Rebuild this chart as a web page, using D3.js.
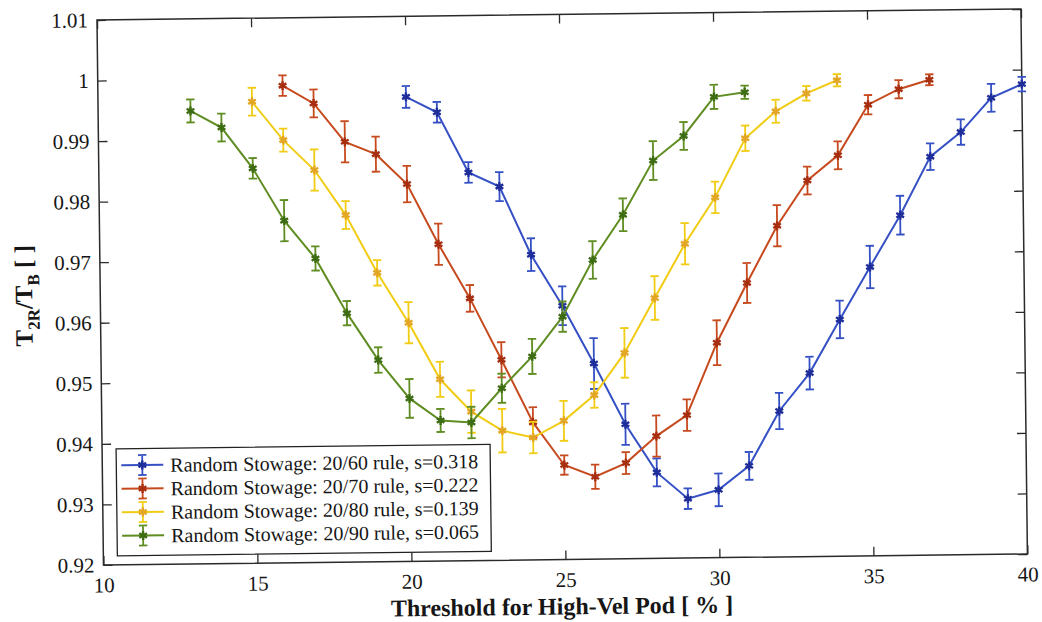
<!DOCTYPE html>
<html>
<head>
<meta charset="utf-8">
<script src="https://cdn.jsdelivr.net/npm/d3@7"></script>
<style>
  body { margin: 0; background: #fff; }
  svg text { font-family: "Liberation Serif", "Times New Roman", serif !important; fill: #161616; }
</style>
</head>
<body>
<svg id="chart" width="1042" height="622"></svg>
<script>
// Threshold (%) and normalized throughput T2R/TB for each stowage rule
const x6060 = [20,21,22,23,24,25,26,27,28,29,30,31,32,33,34,35,36,37,38,39,40];
const y6060 = [0.9967,0.9941,0.9841,0.9817,0.9704,0.9619,0.9523,0.9422,0.9342,0.9298,0.9312,0.9351,0.9441,0.9503,0.9591,0.9677,0.9762,0.9858,0.9898,0.9954,0.9976];
const e6060 = [0.0018,0.0017,0.0017,0.0024,0.0027,0.0032,0.0042,0.0034,0.0023,0.0017,0.0027,0.0023,0.0030,0.0027,0.0031,0.0035,0.0032,0.0022,0.0021,0.0023,0.0012];

const x7070 = [16,17,18,19,20,21,22,23,24,25,26,27,28,29,30,31,32,33,34,35,36,37];
const y7070 = [0.9988,0.9958,0.9894,0.9873,0.9823,0.9723,0.9633,0.9531,0.9427,0.9356,0.9336,0.9358,0.9402,0.9436,0.9555,0.9653,0.9747,0.9821,0.9862,0.9945,0.9970,0.9985];
const e7070 = [0.0017,0.0023,0.0034,0.0029,0.0030,0.0034,0.0022,0.0029,0.0025,0.0016,0.0020,0.0018,0.0034,0.0026,0.0037,0.0033,0.0034,0.0023,0.0023,0.0016,0.0015,0.0009];

const x8080 = [15,16,17,18,19,20,21,22,23,24,25,26,27,28,29,30,31,32,33,34];
const y8080 = [0.9962,0.9898,0.9848,0.9773,0.9677,0.9594,0.9500,0.9446,0.9414,0.9402,0.9429,0.9471,0.9540,0.9630,0.9719,0.9795,0.9892,0.9936,0.9965,0.9986];
const e8080 = [0.0023,0.0019,0.0034,0.0023,0.0021,0.0034,0.0029,0.0035,0.0036,0.0026,0.0033,0.0021,0.0041,0.0036,0.0034,0.0026,0.0021,0.0019,0.0012,0.0010];

const x9090 = [13,14,15,16,17,18,19,20,21,22,23,24,25,26,27,28,29,30,31];
const y9090 = [0.9948,0.9920,0.9852,0.9765,0.9702,0.9611,0.9533,0.9469,0.9432,0.9428,0.9484,0.9536,0.9601,0.9694,0.9768,0.9857,0.9897,0.9961,0.9968];
const e9090 = [0.0019,0.0023,0.0017,0.0034,0.0020,0.0020,0.0021,0.0032,0.0019,0.0026,0.0024,0.0029,0.0025,0.0031,0.0027,0.0032,0.0023,0.0020,0.0011];

const seriesNames = [
  "Random Stowage: 20/60 rule, s=0.318",
  "Random Stowage: 20/70 rule, s=0.222",
  "Random Stowage: 20/80 rule, s=0.139",
  "Random Stowage: 20/90 rule, s=0.065"
];
const xTicks = [10, 15, 20, 25, 30, 35, 40];
const yTicks = [0.92, 0.93, 0.94, 0.95, 0.96, 0.97, 0.98, 0.99, 1, 1.01];

const palette = [
  { line: "#3550c4", mark: "#1e2d9a" },
  { line: "#c64a1e", mark: "#a82e10" },
  { line: "#f1cc12", mark: "#e3a624" },
  { line: "#5f8d22", mark: "#3e6c12" }
];

const series = [
  { x: x6060, y: y6060, e: e6060 },
  { x: x7070, y: y7070, e: e7070 },
  { x: x8080, y: y8080, e: e8080 },
  { x: x9090, y: y9090, e: e9090 }
];

const SERIF = '"Liberation Serif", "Times New Roman", serif';
const W = 924, H = 545;
const svg = d3.select("#chart");
// the whole figure sits slightly tilted on the page
const root = svg.append("g").attr("transform", "translate(97,20) rotate(-0.68)");

const x = d3.scaleLinear().domain([10, 40]).range([0, W]);
const y = d3.scaleLinear().domain([0.92, 1.01]).range([H, 0]);

const fmtY = d => (d === 1 ? "1" : d3.format(".2f")(d));

// Axes with inward ticks
const axB = root.append("g").attr("transform", `translate(0,${H})`)
  .call(d3.axisBottom(x).tickValues(xTicks).tickSizeInner(-9).tickSizeOuter(0).tickPadding(12.5));
const axL = root.append("g")
  .call(d3.axisLeft(y).tickValues(yTicks).tickFormat(fmtY).tickSizeInner(-9).tickSizeOuter(0).tickPadding(9));
const axT = root.append("g")
  .call(d3.axisTop(x).tickValues(xTicks).tickSizeInner(-9).tickSizeOuter(0).tickFormat(""));
const axR = root.append("g").attr("transform", `translate(${W},0)`)
  .call(d3.axisRight(y).tickValues(yTicks).tickSizeInner(-9).tickSizeOuter(0).tickFormat(""));

[axB, axL, axT, axR].forEach(a => {
  a.attr("font-family", SERIF).attr("font-size", 21);
  a.select(".domain").remove();
  a.selectAll(".tick line").attr("stroke", "#2a2a2a").attr("stroke-width", 1.3);
  a.selectAll(".tick text").style("font-family", SERIF).style("font-size", "21px").attr("fill", "#161616");
});

root.append("rect").attr("x", 0).attr("y", 0).attr("width", W).attr("height", H)
  .attr("fill", "none").attr("stroke", "#2a2a2a").attr("stroke-width", 1.5);

// Error bars, lines, markers
const capW = 4.2;
const star = d3.symbol().type(d3.symbolAsterisk || d3.symbolCross).size(55);
const line = d3.line().x(d => x(d[0])).y(d => y(d[1]));

series.forEach((s, i) => {
  const pts = s.x.map((xv, k) => [xv, s.y[k], s.e[k]]);
  const g = root.append("g");
  const eb = g.append("g").attr("stroke", palette[i].line).attr("stroke-width", 1.8).attr("fill", "none");
  pts.forEach(p => {
    const cx = x(p[0]), y0 = y(p[1] - p[2]), y1 = y(p[1] + p[2]);
    eb.append("path").attr("d",
      `M${cx},${y0}V${y1}M${cx - capW},${y0}H${cx + capW}M${cx - capW},${y1}H${cx + capW}`);
  });
  g.append("path").datum(pts).attr("d", line)
    .attr("fill", "none").attr("stroke", palette[i].line).attr("stroke-width", 2);
  g.selectAll("path.mk").data(pts).join("path").attr("class", "mk")
    .attr("transform", p => `translate(${x(p[0])},${y(p[1])})`)
    .attr("d", star).attr("fill", palette[i].mark)
    .attr("stroke", palette[i].mark).attr("stroke-width", 2.4);
});

// Legend
const lg = root.append("g");
lg.append("rect").attr("x", 14).attr("y", 429).attr("width", 374).attr("height", 107)
  .attr("fill", "#fff").attr("stroke", "#222").attr("stroke-width", 1.3);
seriesNames.forEach((name, i) => {
  const cy = 445.5 + i * 23.5;
  const r = lg.append("g");
  r.append("path").attr("d", `M19,${cy}H61`).attr("stroke", palette[i].line).attr("stroke-width", 2).attr("fill", "none");
  r.append("path").attr("d", `M40,${cy - 10}V${cy + 10}M${40 - capW},${cy - 10}H${40 + capW}M${40 - capW},${cy + 10}H${40 + capW}`)
    .attr("stroke", palette[i].line).attr("stroke-width", 1.8).attr("fill", "none");
  r.append("path").attr("transform", `translate(40,${cy})`).attr("d", star)
    .attr("fill", palette[i].mark).attr("stroke", palette[i].mark).attr("stroke-width", 2.4);
  r.append("text").attr("x", 68).attr("y", cy).attr("dy", "0.35em")
    .style("font-family", SERIF).style("font-size", "20px").text(name);
});

// Axis titles
root.append("text").attr("x", W / 2 - 4).attr("y", 600).attr("text-anchor", "middle")
  .style("font-family", SERIF).style("font-size", "24px").style("font-weight", "bold")
  .text("Threshold for High-Vel Pod [ % ]");

const yt = root.append("text").attr("transform", "translate(-68,275) rotate(-90)")
  .attr("text-anchor", "middle").style("font-family", SERIF)
  .style("font-size", "25px").style("font-weight", "bold");
yt.append("tspan").text("T");
yt.append("tspan").attr("dy", 7).style("font-size", "17px").text("2R");
yt.append("tspan").attr("dy", -7).text("/T");
yt.append("tspan").attr("dy", 7).style("font-size", "17px").text("B");
yt.append("tspan").attr("dy", -7).text(" [ ]");
</script>
</body>
</html>
